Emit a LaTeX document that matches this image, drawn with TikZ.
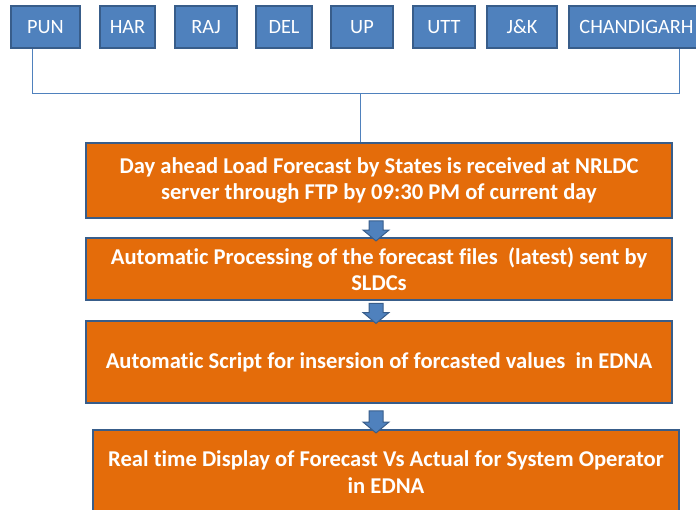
\documentclass[tikz,border=0pt]{standalone}
\usepackage{fontspec}
\setmainfont{Carlito}[Ligatures=NoCommon]
\usetikzlibrary{shapes.arrows}

\definecolor{azulcaja}{HTML}{4F81BD}
\definecolor{azulborde}{HTML}{385D8A}
\definecolor{naranja}{HTML}{E46C0A}

\tikzstyle{estado}= [rectangle,draw=azulborde,line width=2pt,fill=azulcaja,text=white,minimum height=42pt,inner sep=0pt,font=\fontsize{20.3}{24}\selectfont]
\tikzstyle{paso}= [rectangle,draw=azulborde,line width=2pt,fill=naranja,text=white,align=center,inner sep=0pt,minimum width=586pt,font=\bfseries\fontsize{22.6}{26.5}\selectfont]
\tikzstyle{flecha}= [single arrow,draw=azulborde,fill=azulcaja,line width=1pt,shape border rotate=270,minimum height=20pt,single arrow head extend=6pt,single arrow tip angle=100,inner xsep=6.5pt,inner ysep=2pt]
\tikzstyle{bus}= [draw=azulcaja,line width=1pt]

\begin{document}
\begin{tikzpicture}[x=1pt,y=-1pt]

		\useasboundingbox (0,0) rectangle (696,510);
		\clip (0,0) rectangle (696,510);

		\node (pun) at (45.5,27) [estado,minimum width=69pt] {PUN};
		\node (har) at (127.5,27) [estado,minimum width=55pt] {HAR};
		\node (raj) at (206,27) [estado,minimum width=62pt] {RAJ};
		\node (del) at (284,27) [estado,minimum width=56pt] {DEL};
		\node (up) at (362,27) [estado,minimum width=62pt] {UP};
		\node (utt) at (444,27) [estado,minimum width=62pt] {UTT};
		\node (jk) at (522,27) [estado,minimum width=70pt] {J\&K};
		\node (chd) at (636.5,27) [estado,minimum width=135pt] {CHANDIGARH};

		\node (f1) at (379,180.5) [paso,minimum height=75pt] {Day ahead Load Forecast by States is received at NRLDC\\server through FTP by 09:30 PM of current day};
		\node (f2) at (379,269) [paso,minimum height=62pt] {Automatic Processing of the forecast files~ (latest) sent by\\SLDCs};
		\node (f3) at (379,362) [paso,minimum height=82pt] {Automatic Script for insersion of forcasted values~ in EDNA};
		\node (f4) at (386,472) [paso,minimum height=84pt] {Real time Display of Forecast Vs Actual for System Operator\\in EDNA};

		\coordinate (b1) at (32,94);
		\coordinate (b0) at (360,94);
		\coordinate (b2) at (679,94);

		\path[bus] (pun.south -| b1) -- (b1) -- (b2) -- (chd.south -| b2);
		\path[bus] (b0) -- (b0 |- f1.north);

		\node (a1) at (376,228) [flecha] {};
		\node (a2) at (376,310.5) [flecha] {};
		\node (a3) at (376,419) [flecha,minimum height=22pt] {};

\end{tikzpicture}
\end{document}
